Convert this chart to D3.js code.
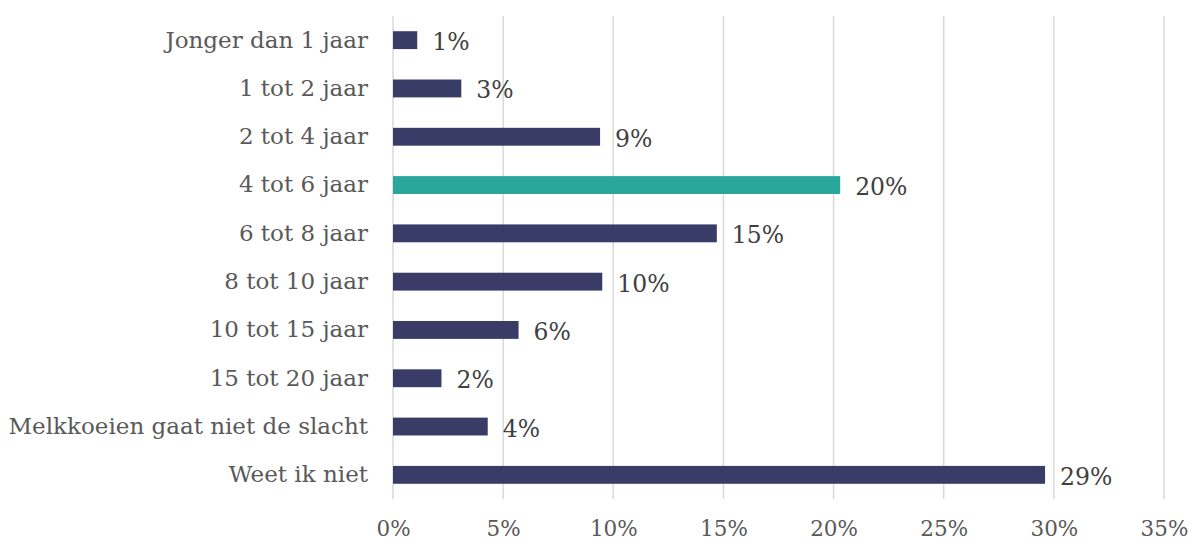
<!DOCTYPE html>
<html>
<head>
<meta charset="utf-8">
<script src="https://cdn.jsdelivr.net/npm/d3@7"></script>
<style>
 body { margin: 0; background: #fff; }
 text { font-family: "DejaVu Serif", serif; }
</style>
</head>
<body>
<svg id="chart" width="1192" height="543"></svg>
<script>
// data
var categories = ["Jonger dan 1 jaar", "1 tot 2 jaar", "2 tot 4 jaar", "4 tot 6 jaar", "6 tot 8 jaar",
  "8 tot 10 jaar", "10 tot 15 jaar", "15 tot 20 jaar", "Melkkoeien gaat niet de slacht", "Weet ik niet"];
var values = [1.1, 3.1, 9.4, 20.3, 14.7, 9.5, 5.7, 2.2, 4.3, 29.6];
var labels = ["1%", "3%", "9%", "20%", "15%", "10%", "6%", "2%", "4%", "29%"];
var highlight = ["4 tot 6 jaar"];
var ticks = [0, 5, 10, 15, 20, 25, 30, 35];

var svg = d3.select('#chart');
var mLeft = 393, mRight = 1164, mTop = 16, mBottom = 499;

var x = d3.scaleLinear().domain([0, 35]).range([mLeft, mRight]);
var y = d3.scaleBand().domain(categories).range([mTop, mBottom]).paddingInner(0.63).paddingOuter(0.315);

// gridlines
svg.append('g').selectAll('line').data(ticks).enter().append('line')
   .attr('x1', d => x(d)).attr('x2', d => x(d))
   .attr('y1', mTop).attr('y2', mBottom)
   .style('stroke', '#d9d9d9').style('stroke-width', 1.5);

// x axis labels
var xAxis = svg.append('g').attr('transform', 'translate(0,' + mBottom + ')')
   .call(d3.axisBottom(x).tickValues(ticks).tickFormat(d => d + '%').tickSize(0).tickPadding(22));
xAxis.select('.domain').remove();
xAxis.selectAll('text').style('font-size', '21.5px').style('fill', '#595959').style('font-family', '"DejaVu Serif", serif');

// y axis labels
var yAxis = svg.append('g').attr('transform', 'translate(' + (mLeft - 25) + ',0)')
   .call(d3.axisLeft(y).tickSize(0).tickPadding(0));
yAxis.select('.domain').remove();
yAxis.selectAll('text').style('font-size', '23px').style('fill', '#595959').style('font-family', '"DejaVu Serif", serif');

var rows = categories.map((c, i) => ({cat: c, v: values[i], lab: labels[i]}));

svg.append('g').selectAll('rect').data(rows).enter().append('rect')
   .attr('x', x(0))
   .attr('y', d => y(d.cat))
   .attr('width', d => x(d.v) - x(0))
   .attr('height', y.bandwidth())
   .style('fill', d => highlight.indexOf(d.cat) >= 0 ? '#2aa79b' : '#383c66');

svg.append('g').selectAll('text').data(rows).enter().append('text')
   .attr('x', d => x(d.v) + 15)
   .attr('y', d => y(d.cat) + y.bandwidth() / 2 + 10)
   .style('font-size', '23.5px').style('fill', '#404040')
   .text(d => d.lab);
</script>
</body>
</html>
